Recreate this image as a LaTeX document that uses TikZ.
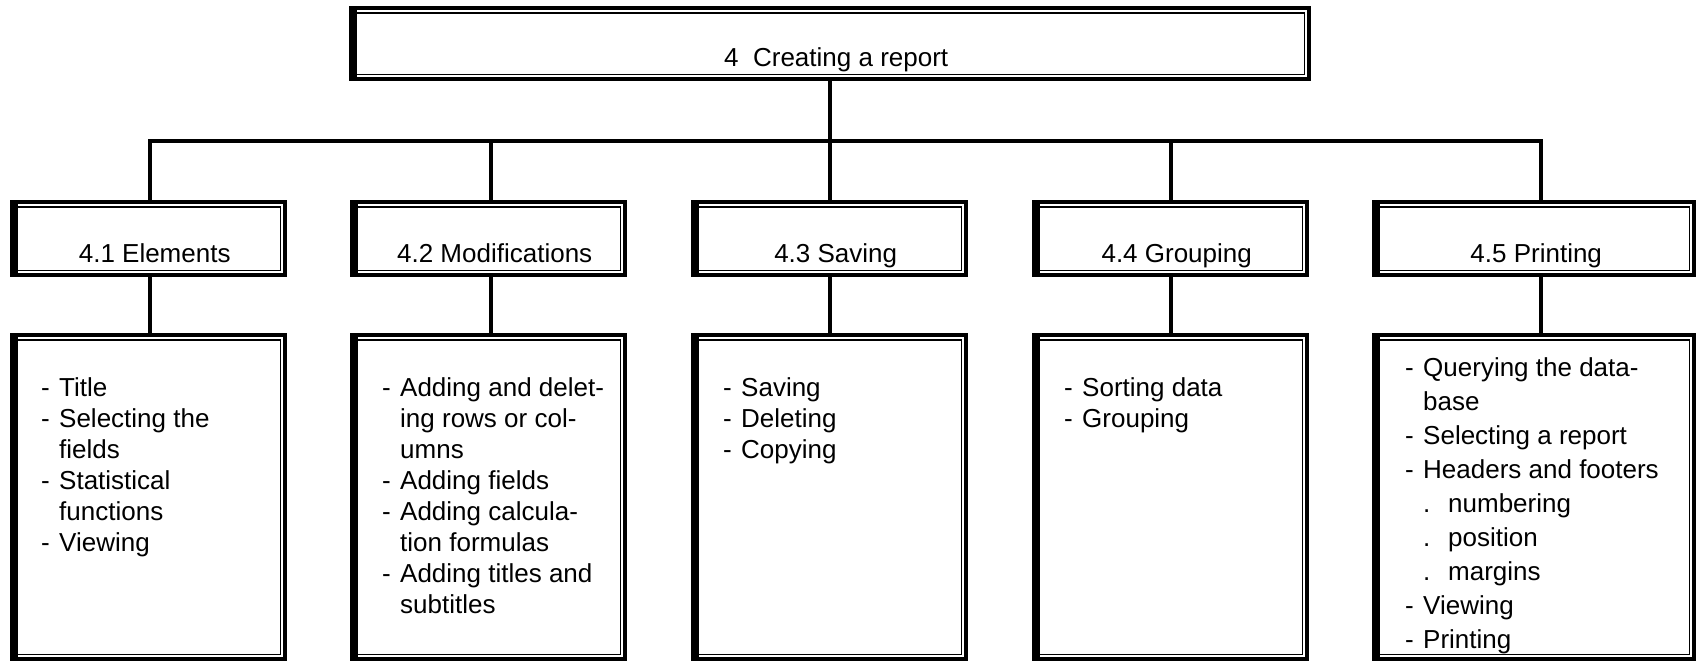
\documentclass[tikz,border=0pt]{standalone}
\usepackage{fontspec}
\setmainfont{Liberation Sans}
\newcommand\itm[1]{\makebox[18pt][l]{-}#1}
\newcommand\cnt[1]{\makebox[18pt][l]{}#1}
\newcommand\subi[1]{\makebox[18pt][l]{}\makebox[25pt][l]{.}#1}
\begin{document}
\begin{tikzpicture}[x=1pt,y=-1pt,
  box/.style={rectangle, draw=none, inner sep=0pt, anchor=north west},
  lab/.style={anchor=base, inner sep=0pt, font=\fontsize{26}{30}\selectfont},
  txt/.style={anchor=north west, inner sep=0pt, align=left, font=\fontsize{26}{31}\selectfont},
  txtb/.style={txt, font=\fontsize{26}{34}\selectfont},
  conn/.style={line width=4pt},
]
\useasboundingbox (0,0) rectangle (1696,661);
\fill[white] (0,0) rectangle (1696,661);

\node[box, minimum width=962pt, minimum height=75pt] (top) at (349,6) {};
\node[box, minimum width=277pt, minimum height=77pt] (e1) at (10,200) {};
\node[box, minimum width=277pt, minimum height=77pt] (e2) at (350,200) {};
\node[box, minimum width=277pt, minimum height=77pt] (e3) at (691,200) {};
\node[box, minimum width=277pt, minimum height=77pt] (e4) at (1032,200) {};
\node[box, minimum width=324pt, minimum height=77pt] (e5) at (1372,200) {};
\node[box, minimum width=277pt, minimum height=328pt] (c1) at (10,333) {};
\node[box, minimum width=277pt, minimum height=328pt] (c2) at (350,333) {};
\node[box, minimum width=277pt, minimum height=328pt] (c3) at (691,333) {};
\node[box, minimum width=277pt, minimum height=328pt] (c4) at (1032,333) {};
\node[box, minimum width=324pt, minimum height=328pt] (c5) at (1372,333) {};

\foreach \n in {top,e1,e2,e3,e4,e5,c1,c2,c3,c4,c5}{
  \fill (\n.north west) rectangle ([xshift=8pt]\n.south west);
  \draw[line width=4pt] ([shift={(2pt,-2pt)}]\n.north west) rectangle ([shift={(-2pt,2pt)}]\n.south east);
  \draw[line width=1.6pt] ([shift={(6.8pt,-6.8pt)}]\n.north west) rectangle ([shift={(-6.8pt,6.8pt)}]\n.south east);
}

\node[lab] (ltop) at ([xshift=6pt,yshift=-22.5pt]top.center) {4\ \ Creating a report};
\node[lab] (l1) at ([xshift=6pt,yshift=-23.5pt]e1.center) {4.1 Elements};
\node[lab] (l2) at ([xshift=6pt,yshift=-23.5pt]e2.center) {4.2 Modifications};
\node[lab] (l3) at ([xshift=6pt,yshift=-23.5pt]e3.center) {4.3 Saving};
\node[lab] (l4) at ([xshift=6pt,yshift=-23.5pt]e4.center) {4.4 Grouping};
\node[lab] (l5) at ([xshift=2pt,yshift=-23.5pt]e5.center) {4.5 Printing};

\node[txt] (t1) at (41,377) {\itm{Title}\\\itm{Selecting the}\\\cnt{fields}\\\itm{Statistical}\\\cnt{functions}\\\itm{Viewing}};
\node[txt] (t2) at (382,377) {\itm{Adding and delet-}\\\cnt{ing rows or col-}\\\cnt{umns}\\\itm{Adding fields}\\\itm{Adding calcula-}\\\cnt{tion formulas}\\\itm{Adding titles and}\\\cnt{subtitles}};
\node[txt] (t3) at (723,377) {\itm{Saving}\\\itm{Deleting}\\\itm{Copying}};
\node[txt] (t4) at (1064,377) {\itm{Sorting data}\\\itm{Grouping}};
\node[txtb] (t5) at (1405,357) {\itm{Querying the data-}\\\cnt{base}\\\itm{Selecting a report}\\\itm{Headers and footers}\\\subi{numbering}\\\subi{position}\\\subi{margins}\\\itm{Viewing}\\\itm{Printing}};

\coordinate (b1) at (150,141);
\coordinate (b2) at (491,141);
\coordinate (b3) at (830,141);
\coordinate (b4) at (1171,141);
\coordinate (b5) at (1541,141);

\draw[conn] (top.south) -- (top.south |- b1);
\draw[conn] (b1 |- e1.north) -- (b1) -- (b5) -- (b5 |- e5.north);
\draw[conn] (b2) -- (b2 |- e2.north);
\draw[conn] (b3) -- (b3 |- e3.north);
\draw[conn] (b4) -- (b4 |- e4.north);
\draw[conn] (b1 |- e1.south) -- (b1 |- c1.north);
\draw[conn] (b2 |- e2.south) -- (b2 |- c2.north);
\draw[conn] (b3 |- e3.south) -- (b3 |- c3.north);
\draw[conn] (b4 |- e4.south) -- (b4 |- c4.north);
\draw[conn] (b5 |- e5.south) -- (b5 |- c5.north);
\end{tikzpicture}
\end{document}
